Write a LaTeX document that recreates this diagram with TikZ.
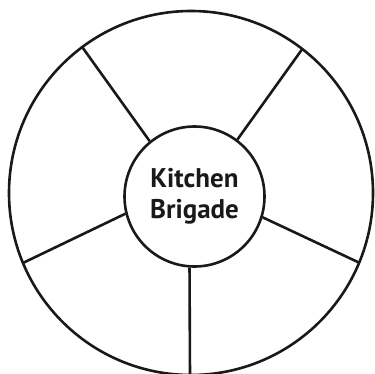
\documentclass[tikz,border=0pt]{standalone}
\usepackage{fontspec}
\setmainfont{PT Sans}
\usetikzlibrary{calc}
\begin{document}
\begin{tikzpicture}[x=1pt,y=1pt,
  ring/.style={draw=black!90,line width=2.6pt},
  spoke/.style={draw=black!90,line width=2.6pt},
  hub/.style={circle,draw=black!90,line width=2.6pt,minimum size=140pt,inner sep=0pt,
    font=\bfseries\fontsize{27}{31}\selectfont,align=center,text=black!90}]
\useasboundingbox (0,0) rectangle (375,373);
\node[circle,ring,minimum size=364pt,inner sep=0pt] (outer) at (191,180) {};
\node[hub] (c) at (194.5,176.5) {Kitchen\\Brigade};
\coordinate (e1) at ($(191,180)+(126.7:182)$);
\coordinate (e2) at ($(191,180)+(52.3:182)$);
\coordinate (e3) at ($(191,180)+(202.6:182)$);
\coordinate (e4) at ($(191,180)+(337.5:182)$);
\coordinate (e5) at (190,-4);
\draw[spoke] (c.129.5) -- (e1);
\draw[spoke] (c.53.4) -- (e2);
\draw[spoke] (c.194.9) -- (e3);
\draw[spoke] (c.343.1) -- (e4);
\draw[spoke] (c.266.3) -- (e5);
\end{tikzpicture}
\end{document}
